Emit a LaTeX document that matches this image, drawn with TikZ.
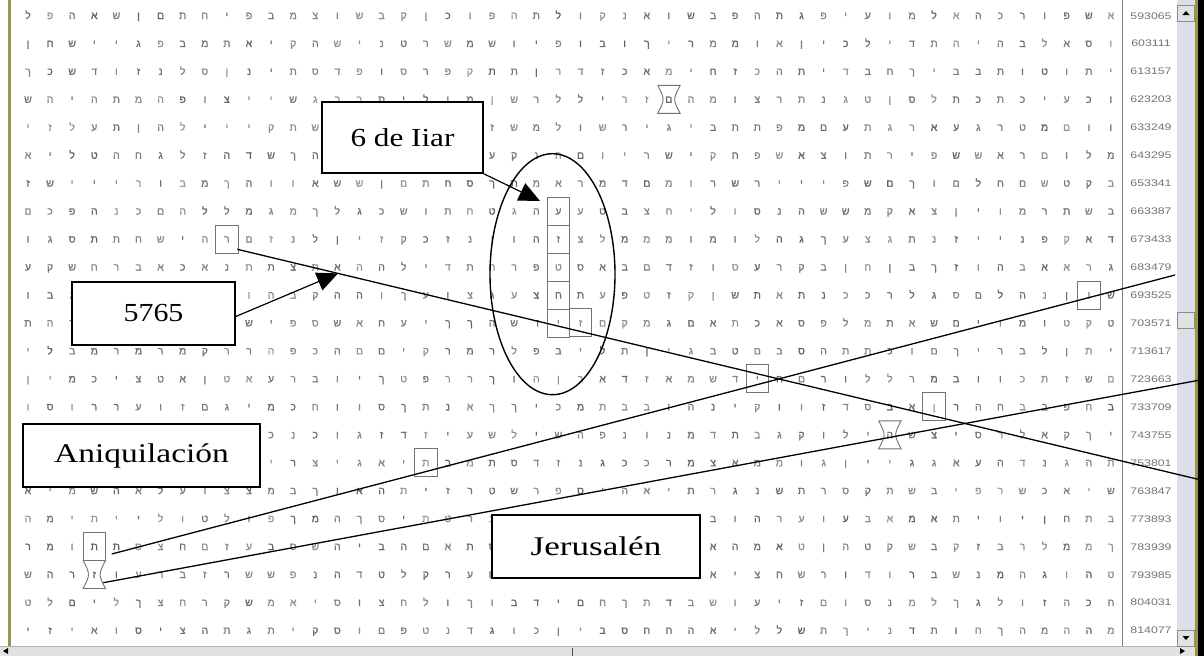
\documentclass[tikz,border=0pt]{standalone}
\usepackage{fontspec}
\usepackage{graphicx}
\setmainfont{Liberation Serif}
\newfontfamily\hebfont[Script=Hebrew,FakeBold=1.2]{Liberation Sans}
\newfontfamily\numfont{Liberation Sans}
\usetikzlibrary{arrows.meta,shapes.geometric}
\newcommand\hebl[1]{\ifcase#1 א\or ב\or ג\or ד\or ה\or ו\or ז\or ח\or ט\or י\or כ\or ל\or מ\or נ\or ס\or ע\or פ\or צ\or ק\or ר\or ש\or ת\or ך\or ם\or ן\or ו\or י\or ה\or א\or ל\or ת\or ב\or מ\or ר\or ש\or ו\or י\fi}
\definecolor{trackc}{RGB}{222,222,234}
\definecolor{olivec}{RGB}{150,150,70}
\definecolor{barc}{RGB}{226,226,226}
\tikzset{
  hebcell/.style={anchor=base, inner sep=0pt, font=\hebfont\fontsize{10.5}{11}\selectfont},
  numcell/.style={anchor=base, inner sep=0pt, text=black!55, font=\numfont\fontsize{9.5}{10}\selectfont},
  cellbox/.style={draw=black!55, line width=0.9pt, minimum width=22.5pt, minimum height=28pt, inner sep=0pt},
  cellline/.style={draw=black!55, line width=0.9pt},
  hourglass/.pic={\draw[cellline] (-11.2,-14) -- (11.2,-14) .. controls (4,0) .. (11.2,14) -- (-11.2,14) .. controls (-4,0) .. (-11.2,-14);},
  labelbox/.style={draw=black, line width=1.6pt, fill=white, inner sep=0pt, font=\fontsize{26}{26}\selectfont},
  longline/.style={draw=black, line width=1.3pt},
  callout/.style={draw=black, line width=1.2pt, -{Triangle[length=21pt,width=19pt]}},
  btn/.style={draw=black!45, fill=barc, line width=0.8pt, minimum width=17pt, minimum height=16pt, inner sep=0pt}
}
\begin{document}
\begin{tikzpicture}[x=1pt,y=-1pt]
\useasboundingbox (0,0) rectangle (1204,656);
\fill[white] (0,0) rectangle (1204,656);
% letter grid
\pgfmathsetseed{4711}
\foreach \r in {0,...,22}{
  \foreach \k in {0,...,49}{
    \pgfmathrandominteger{\rl}{0}{36}
    \pgfmathrandominteger{\gv}{42}{62}
    \node[hebcell, text=black!\gv] (h-\r-\k) at ({28+22.1*\k},{19+27.95*\r}) {\hebl{\rl}};
  }
}
% row numbers
\foreach \r/\n in {0/593065,1/603111,2/613157,3/623203,4/633249,5/643295,6/653341,7/663387,8/673433,9/683479,10/693525,11/703571,12/713617,13/723663,14/733709,15/743755,16/753801,17/763847,18/773893,19/783939,20/793985,21/804031,22/814077}{
  \node[numcell] (n-\r) at (1151,{19+27.95*\r}) {\scalebox{1.3}[1]{\n}};
}
% separator
\draw[black!50, line width=1pt] (1122.5,0) -- (1122.5,646);
% window frame
\fill[olivec] (8,0) rectangle (11,646);
\fill[trackc] (1177,0) rectangle (1195,646);
\fill[olivec] (1195,0) rectangle (1198,656);
\fill[black] (1198,0) rectangle (1204,656);
\fill[barc] (0,646) rectangle (1195,656);
\draw[black!30, line width=0.6pt] (0,646) -- (1195,646);
\node[btn] (up) at (1186,13) {};
\node[btn] (thumb) at (1186,320) {};
\node[btn] (down) at (1186,638) {};
\fill[black] (1182.5,15) -- (1189.5,15) -- (1186,11) -- cycle;
\fill[black] (1182.5,636) -- (1189.5,636) -- (1186,640) -- cycle;
\fill[black] (3,651) -- (8,648) -- (8,654) -- cycle;
\draw[black!70, line width=1pt] (572,648) -- (572,656);
\fill[black] (1185,651) -- (1180,648) -- (1180,654) -- cycle;
% marked cells
\node[cellbox] (b1) at (226.9,239.1) {};
\foreach \r in {7,...,11}{
  \node[cellbox] (bc-\r) at (558.4,{15.5+27.95*\r}) {};
}
\node[cellbox] (b2) at (580.5,322.9) {};
\node[cellbox] (b3) at (425.8,462.7) {};
\node[cellbox] (b4) at (757.3,378.9) {};
\node[cellbox] (b5) at (934.1,406.8) {};
\node[cellbox] (b6) at (1088.8,295) {};
\node[cellbox] (b7) at (94.3,546.5) {};
\pic (hg1) at (668.9,99.4) {hourglass};
\pic (hg2) at (889.9,434.8) {hourglass};
\pic (hg3) at (94.3,574.5) {hourglass};
% ellipse
\node[draw=black, ellipse, line width=1.4pt, minimum width=125pt, minimum height=241pt, inner sep=0pt] (ell) at (552.5,274.2) {};
% long lines
\coordinate (l1s) at (237.3,249.3);
\coordinate (l1e) at (1204,480.7);
\coordinate (l2s) at (111.7,554);
\coordinate (l2e) at (1175,275);
\coordinate (l3s) at (103.3,582.7);
\coordinate (l3e) at (1204,379.3);
\draw[longline] (l1s) -- (l1e);
\draw[longline] (l2s) -- (l2e);
\draw[longline] (l3s) -- (l3e);
% labels
\node[labelbox, minimum width=161pt, minimum height=71pt] (lab6) at (402.5,137.5) {\scalebox{1.2}[1]{6 de Iiar}};
\node[labelbox, minimum width=163pt, minimum height=63pt] (lab5765) at (153.5,313.5) {\scalebox{1.15}[1]{5765}};
\node[labelbox, minimum width=237pt, minimum height=63pt, font=\fontsize{27}{27}\selectfont] (labani) at (141.5,455.5) {\scalebox{1.24}[1]{Aniquilación}};
\node[labelbox, minimum width=208pt, minimum height=63pt, font=\fontsize{27}{27}\selectfont] (labjer) at (596,546.5) {\scalebox{1.3}[1]{Jerusalén}};
% callouts
\coordinate (t6) at (540,201);
\coordinate (t5765) at (338,273.4);
\draw[callout] (lab6.south east) -- (t6);
\draw[callout] ([yshift=-3pt]lab5765.east) -- (t5765);
\end{tikzpicture}
\end{document}
